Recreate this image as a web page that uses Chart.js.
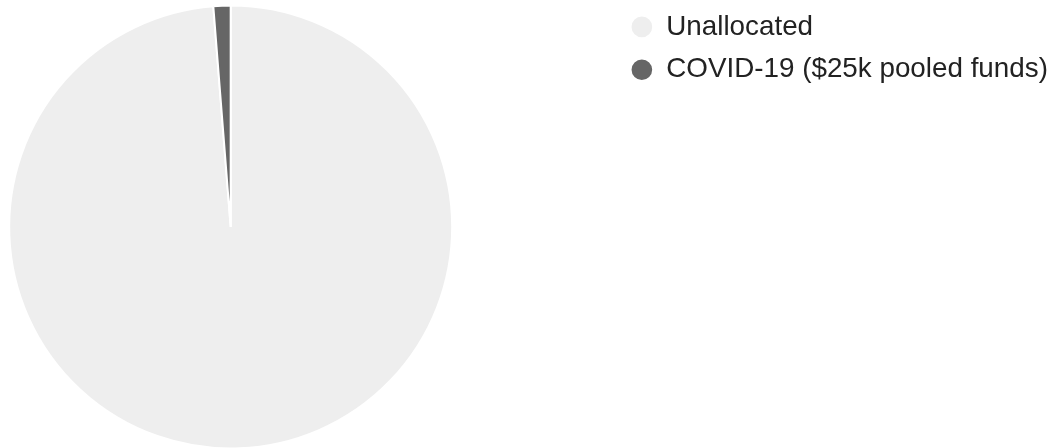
<!DOCTYPE html>
<html>
<head>
<meta charset="utf-8">
<script src="https://cdn.jsdelivr.net/npm/chart.js@4/dist/chart.umd.min.js"></script>
<style>
  html, body { margin: 0; padding: 0; background: #ffffff; overflow: hidden; }
  #wrap { position: relative; width: 1058px; height: 448px; overflow: hidden; }
  #c { position: absolute; left: -155px; top: -2px; }
</style>
</head>
<body>
<div id="wrap"><canvas id="c" width="1220" height="458"></canvas></div>
<script>
const categories = ["Unallocated", "COVID-19 ($25k pooled funds)"];
const values = [1975000, 25000];
const sliceColors = ["#eeeeee", "#666666"];

new Chart(document.getElementById("c"), {
  type: "pie",
  data: {
    labels: categories,
    datasets: [{
      data: values,
      backgroundColor: sliceColors,
      borderColor: "#ffffff",
      borderWidth: 2,
      hoverOffset: 0
    }]
  },
  options: {
    responsive: false,
    animation: false,
    radius: 221.5,
    layout: { padding: { left: 0, right: 7.1, top: 0, bottom: 0 } },
    plugins: {
      tooltip: { enabled: false },
      legend: {
        position: "right",
        align: "start",
        labels: {
          usePointStyle: true,
          pointStyle: "circle",
          boxWidth: 21,
          boxHeight: 16,
          padding: 15,
          color: "#222222",
          font: { family: "'Liberation Sans', Arial, Helvetica, sans-serif", size: 27.8 }
        }
      }
    }
  }
});
</script>
</body>
</html>
